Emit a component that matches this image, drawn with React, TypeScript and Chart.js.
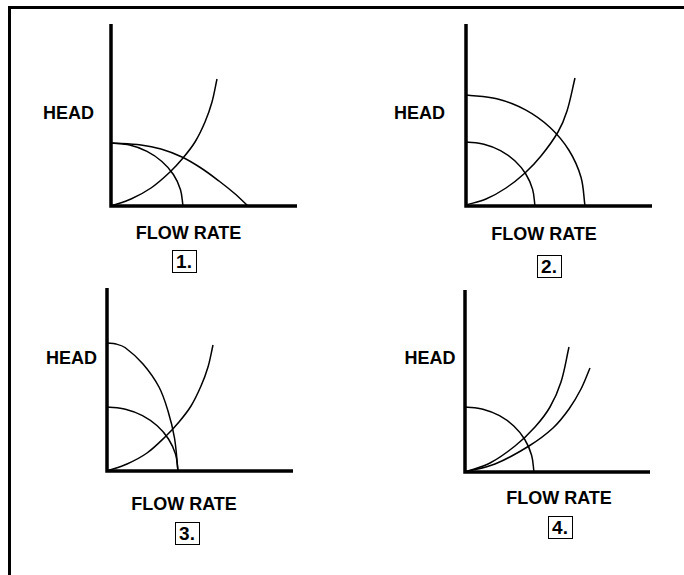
import React, { useEffect, useRef } from "react";
import { Chart, registerables } from "chart.js";

Chart.register(...registerables);

type Pt = [number, number]; // [flow, head]

// Axis extents (flow max, head max) per panel
const axis1: Pt = [186, 182];
const axis2: Pt = [186, 182];
const axis3: Pt = [186, 183];
const axis4: Pt = [185, 182];

// Panel 1
const p1PumpSmall: Pt[] = [[0, 63], [18.6, 60.9], [36, 54.6], [50.9, 44.5], [62.4, 31.5], [69.5, 16.3], [72, 0]];
const p1PumpLarge: Pt[] = [[0, 63], [30, 61], [50, 57], [71, 49], [90, 38], [108, 25], [123, 13], [137, 0]];
const p1System: Pt[] = [[0, 0], [20, 7], [40, 18], [59, 34], [72, 48], [84, 64], [94, 84], [101, 104], [106, 127]];

// Panel 2
const p2PumpSmall: Pt[] = [[0, 64], [17.9, 61.8], [34.5, 55.4], [48.8, 45.2], [59.8, 32], [66.6, 16.6], [69, 0]];
const p2PumpLarge: Pt[] = [[0, 111], [30.8, 107.2], [59.5, 96.1], [84.1, 78.5], [103.1, 55.5], [115, 28.7], [119, 0]];
const p2System: Pt[] = [[0, 1], [20, 7], [40, 18], [59, 33], [75, 50], [92, 74], [101, 95], [109, 128]];

// Panel 3
const p3PumpLarge: Pt[] = [[0, 128], [9, 127], [18, 123.5], [36, 107], [52, 84], [61, 60], [67.5, 33], [71, 0]];
const p3PumpSmall: Pt[] = [[0, 64], [18.4, 61.8], [35.5, 55.4], [50.2, 45.2], [61.5, 32], [68.6, 16.6], [71, 0]];
const p3System: Pt[] = [[0, 0], [20, 7], [40, 18], [59, 35], [72, 49], [84, 65], [94, 85], [101, 104], [106, 126]];

// Panel 4
const p4Pump: Pt[] = [[0, 65], [17.9, 62.8], [34.5, 56.3], [48.8, 46], [59.8, 32.5], [66.6, 16.8], [69, 0]];
const p4SystemA: Pt[] = [[0, 0], [25, 9], [50, 26], [70, 45], [85, 65], [96, 90], [104, 125]];
const p4SystemB: Pt[] = [[0, 0], [30, 8], [64, 26], [88, 44], [104, 63], [116, 83], [125, 104]];

const xLabel = "FLOW RATE";
const yLabel = "HEAD";
const panelNumbers = ["1.", "2.", "3.", "4."];

const PAD = 6;
const FONT = '"Liberation Sans", Arial, sans-serif';

interface PanelProps {
  left: number;
  top: number;
  axisExt: Pt;
  curves: Pt[][];
}

function Panel({ left, top, axisExt, curves }: PanelProps) {
  const ref = useRef<HTMLCanvasElement | null>(null);
  useEffect(() => {
    if (!ref.current) return;
    const [xMax, yMax] = axisExt;
    const toXY = (arr: Pt[]) => arr.map(([x, y]) => ({ x, y }));
    const chart = new Chart(ref.current, {
      type: "scatter",
      data: {
        datasets: [
          {
            data: [
              { x: 0, y: yMax },
              { x: 0, y: 0 },
              { x: xMax, y: 0 },
            ],
            showLine: true,
            borderColor: "#000",
            borderWidth: 3.5,
            borderJoinStyle: "miter",
            pointRadius: 0,
            tension: 0,
            clip: false,
          } as any,
          ...curves.map((c) => ({
            data: toXY(c),
            showLine: true,
            borderColor: "#000",
            borderWidth: 1.5,
            pointRadius: 0,
            tension: 0.35,
            clip: false,
          })),
        ],
      },
      options: {
        animation: false,
        responsive: false,
        events: [],
        layout: { padding: PAD },
        plugins: { legend: { display: false }, tooltip: { enabled: false } },
        scales: {
          x: { type: "linear", min: 0, max: xMax, display: false },
          y: { type: "linear", min: 0, max: yMax, display: false },
        },
      },
    });
    return () => chart.destroy();
  }, []);
  const w = axisExt[0] + PAD * 2;
  const h = axisExt[1] + PAD * 2;
  return (
    <canvas
      ref={ref}
      width={w}
      height={h}
      style={{ position: "absolute", left: left - PAD, top: top - PAD, width: w, height: h }}
    />
  );
}

function Label({ cx, top, text }: { cx: number; top: number; text: string }) {
  return (
    <div
      style={{
        position: "absolute",
        left: cx,
        top,
        transform: "translateX(-50%)",
        fontFamily: FONT,
        fontWeight: "bold",
        fontSize: 18,
        lineHeight: "18px",
        whiteSpace: "nowrap",
        color: "#000",
      }}
    >
      {text}
    </div>
  );
}

function NumBox({ cx, top, text }: { cx: number; top: number; text: string }) {
  return (
    <div
      style={{
        position: "absolute",
        left: cx - 12.5,
        top,
        width: 25,
        height: 23,
        boxSizing: "border-box",
        border: "1px solid #000",
        fontFamily: FONT,
        fontWeight: "bold",
        fontSize: 19,
        lineHeight: "21px",
        textAlign: "center",
        color: "#000",
      }}
    >
      {text}
    </div>
  );
}

export default function App() {
  return (
    <div
      style={{
        position: "absolute",
        left: 0,
        top: 0,
        width: 684,
        height: 575,
        overflow: "hidden",
        background: "#fff",
      }}
    >
      <div
        style={{
          position: "absolute",
          left: 8,
          top: 6,
          width: 700,
          height: 600,
          borderLeft: "3px solid #000",
          borderTop: "3px solid #000",
        }}
      />
      <Panel left={111} top={24} axisExt={axis1} curves={[p1PumpSmall, p1PumpLarge, p1System]} />
      <Panel left={466} top={24} axisExt={axis2} curves={[p2PumpSmall, p2PumpLarge, p2System]} />
      <Panel left={107} top={288} axisExt={axis3} curves={[p3PumpLarge, p3PumpSmall, p3System]} />
      <Panel left={465} top={290} axisExt={axis4} curves={[p4Pump, p4SystemA, p4SystemB]} />

      <Label cx={68.5} top={104} text={yLabel} />
      <Label cx={419.5} top={104} text={yLabel} />
      <Label cx={71.5} top={349} text={yLabel} />
      <Label cx={430} top={349} text={yLabel} />

      <Label cx={188.5} top={224} text={xLabel} />
      <Label cx={544} top={225} text={xLabel} />
      <Label cx={184} top={495} text={xLabel} />
      <Label cx={559} top={489} text={xLabel} />

      <NumBox cx={184} top={250} text={panelNumbers[0]} />
      <NumBox cx={549} top={255} text={panelNumbers[1]} />
      <NumBox cx={187} top={522} text={panelNumbers[2]} />
      <NumBox cx={560} top={516} text={panelNumbers[3]} />
    </div>
  );
}
